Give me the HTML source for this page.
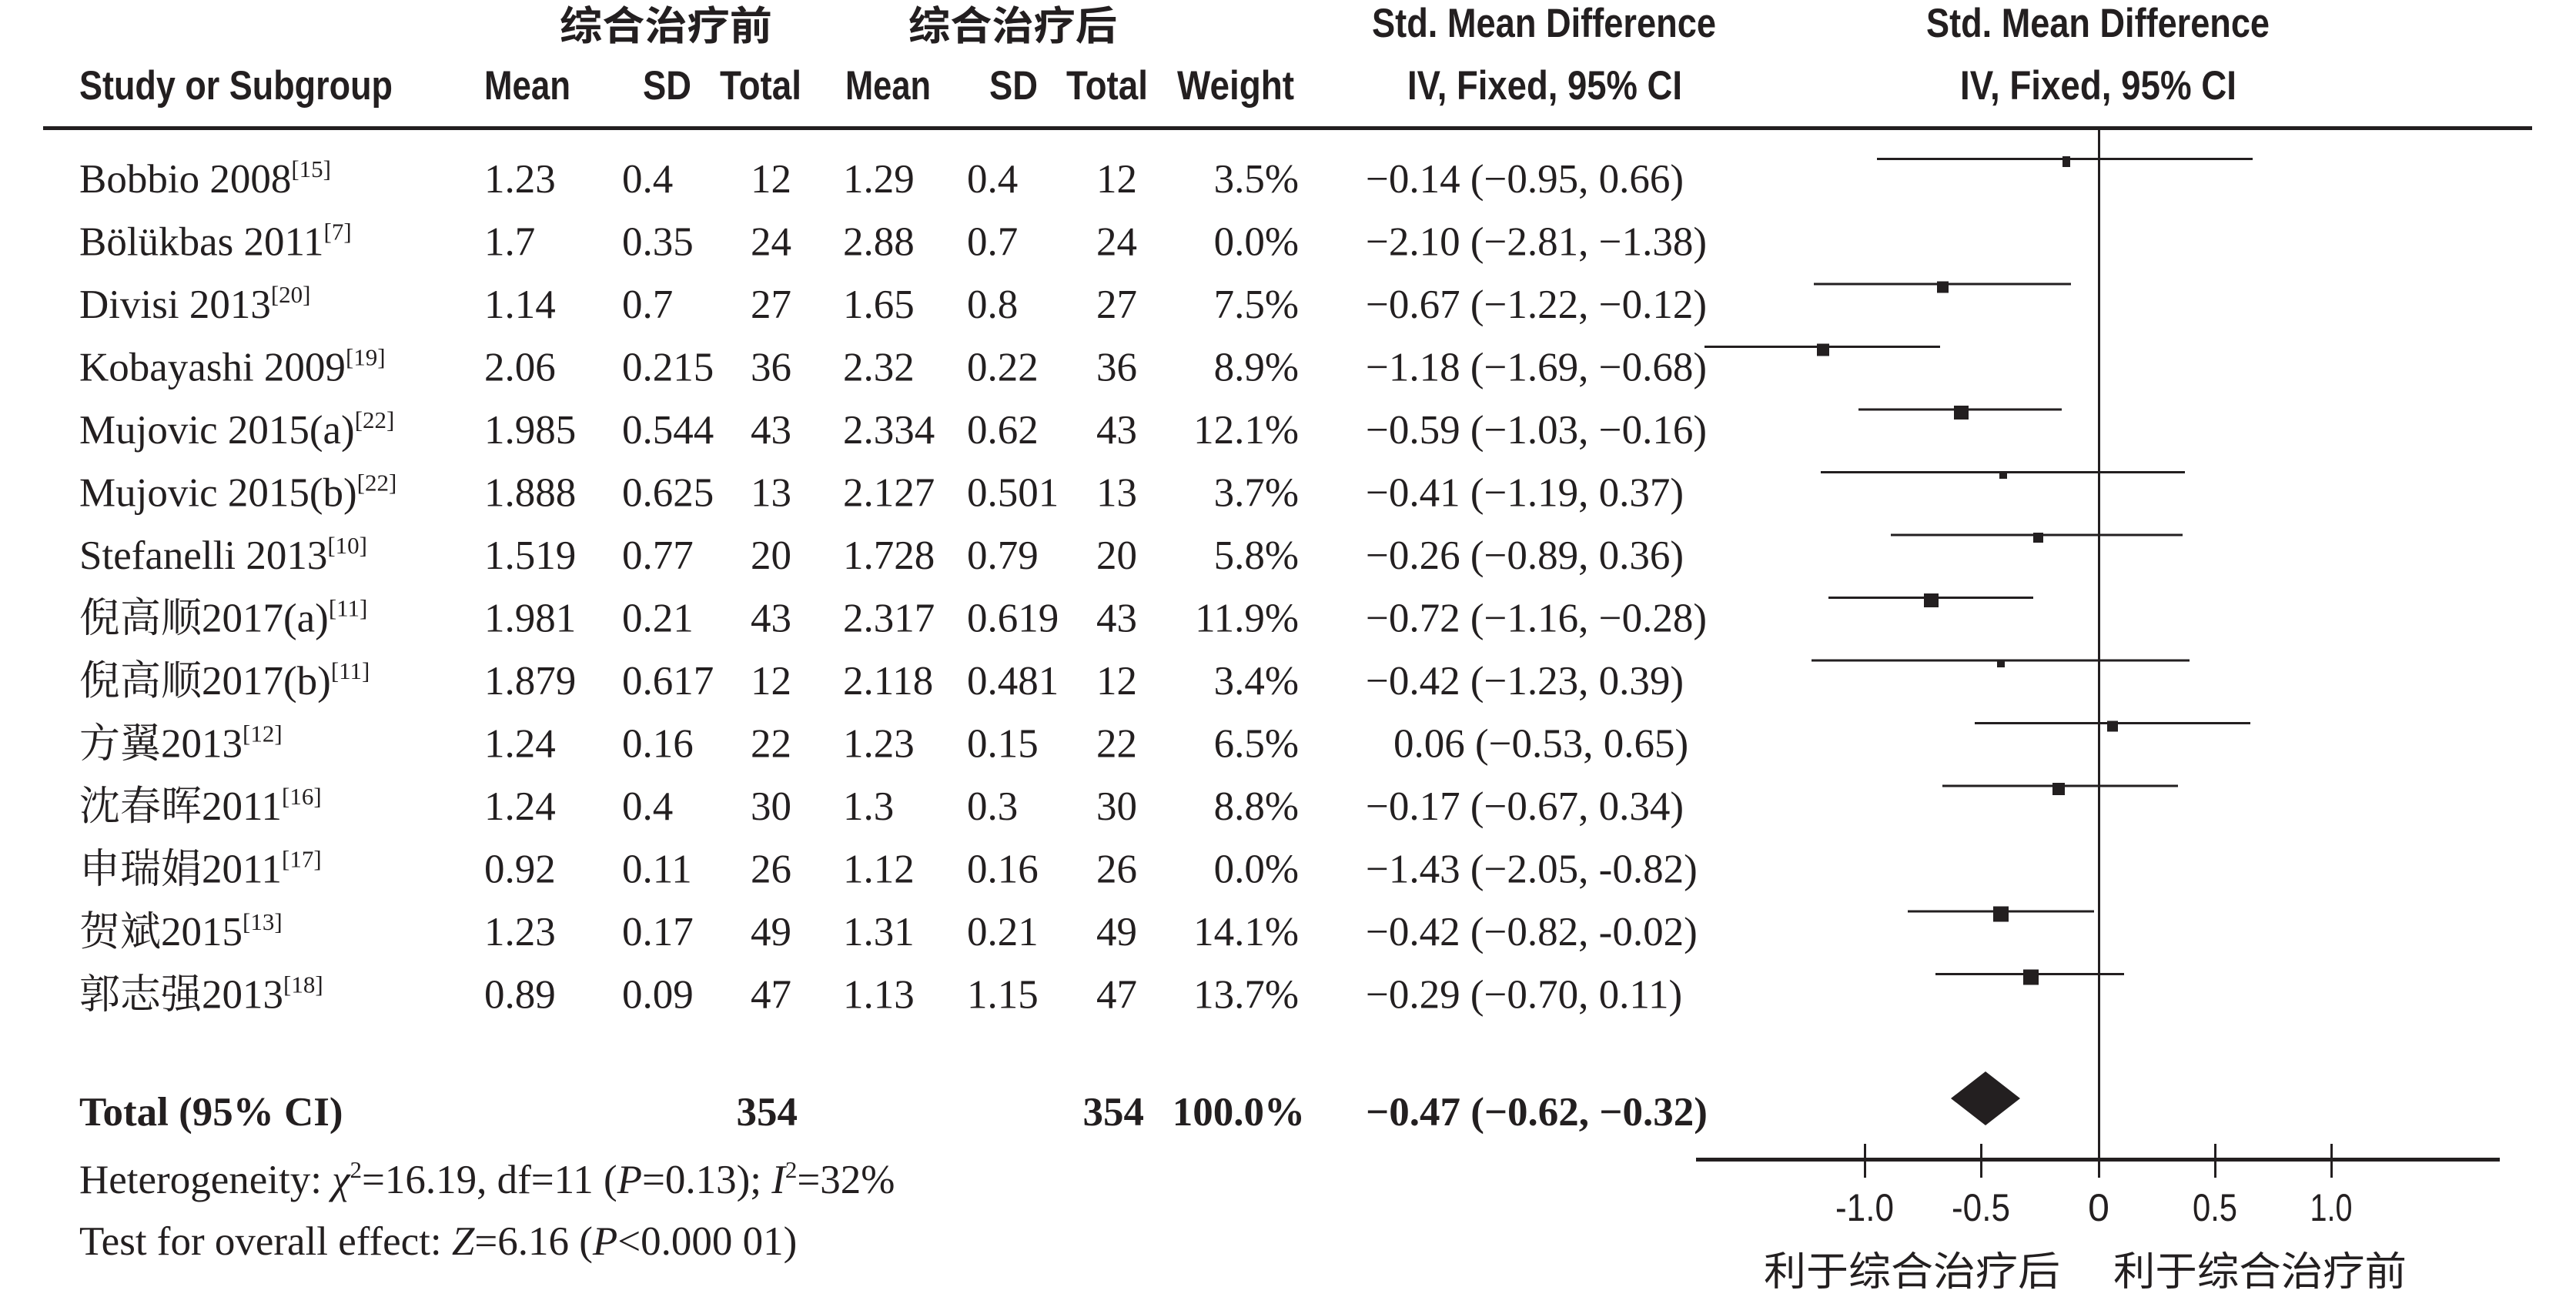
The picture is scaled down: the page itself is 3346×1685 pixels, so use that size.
<!DOCTYPE html>
<html><head><meta charset="utf-8"><style>
html,body{margin:0;padding:0;background:#fff;}
svg{display:block;}
.s{font-family:"Liberation Serif","Noto Serif CJK SC",serif;font-size:53px;fill:#231f20;}
.h{font-family:"Liberation Sans","Noto Sans CJK SC",sans-serif;font-size:53px;font-weight:bold;fill:#231f20;}
.c{font-family:"Liberation Sans","Noto Sans CJK SC",sans-serif;font-size:52px;fill:#231f20;}
.sup{font-size:31px;}
</style></head><body>
<svg width="3346" height="1685" xmlns="http://www.w3.org/2000/svg">
<!-- headers -->
<text class="c" x="727" y="52" textLength="276" lengthAdjust="spacingAndGlyphs" style="font-weight:bold">综合治疗前</text>
<text class="c" x="1180" y="52" textLength="271" lengthAdjust="spacingAndGlyphs" style="font-weight:bold">综合治疗后</text>
<text class="h" x="1782" y="48" textLength="447" lengthAdjust="spacingAndGlyphs">Std. Mean Difference</text>
<text class="h" x="2502" y="48" textLength="446" lengthAdjust="spacingAndGlyphs">Std. Mean Difference</text>
<text class="h" x="103" y="129" textLength="407" lengthAdjust="spacingAndGlyphs">Study or Subgroup</text>
<text class="h" x="629" y="129" textLength="112" lengthAdjust="spacingAndGlyphs">Mean</text>
<text class="h" x="835" y="129" textLength="63" lengthAdjust="spacingAndGlyphs">SD</text>
<text class="h" x="935" y="129" textLength="106" lengthAdjust="spacingAndGlyphs">Total</text>
<text class="h" x="1098" y="129" textLength="111" lengthAdjust="spacingAndGlyphs">Mean</text>
<text class="h" x="1285" y="129" textLength="63" lengthAdjust="spacingAndGlyphs">SD</text>
<text class="h" x="1385" y="129" textLength="106" lengthAdjust="spacingAndGlyphs">Total</text>
<text class="h" x="1529" y="129" textLength="152" lengthAdjust="spacingAndGlyphs">Weight</text>
<text class="h" x="1828" y="129" textLength="357" lengthAdjust="spacingAndGlyphs">IV, Fixed, 95% CI</text>
<text class="h" x="2546" y="129" textLength="359" lengthAdjust="spacingAndGlyphs">IV, Fixed, 95% CI</text>
<rect x="56" y="164" width="3233" height="5" fill="#231f20"/>
<!-- zero line and axis -->
<rect x="2725" y="166" width="3" height="1342" fill="#231f20"/>
<rect x="2203" y="1504" width="1044" height="5" fill="#231f20"/>
<g fill="#231f20">
<rect x="2421" y="1486" width="3" height="44"/><rect x="2572" y="1486" width="3" height="44"/><rect x="2725" y="1486" width="3" height="44"/><rect x="2876" y="1486" width="3" height="44"/><rect x="3027" y="1486" width="3" height="44"/>
</g>
<g class="c" text-anchor="middle" style="font-size:50px">
<text x="2422" y="1586" textLength="76" lengthAdjust="spacingAndGlyphs">-1.0</text>
<text x="2573" y="1586" textLength="76" lengthAdjust="spacingAndGlyphs">-0.5</text>
<text x="2726" y="1586">0</text>
<text x="2877" y="1586" textLength="58" lengthAdjust="spacingAndGlyphs">0.5</text>
<text x="3028" y="1586" textLength="55" lengthAdjust="spacingAndGlyphs">1.0</text>
</g>
<text class="c" x="2291" y="1670" textLength="385" lengthAdjust="spacingAndGlyphs">利于综合治疗后</text>
<text class="c" x="2745" y="1670" textLength="381" lengthAdjust="spacingAndGlyphs">利于综合治疗前</text>
<!-- diamond -->
<polygon points="2534,1427 2579,1392 2624,1427 2579,1462" fill="#231f20"/>
<!-- CI lines -->
<g fill="#231f20">
<rect x="2438" y="205" width="488" height="3"/><rect x="2679" y="203" width="10" height="14"/>
<rect x="2356" y="367.5" width="334" height="3"/><rect x="2516" y="365.5" width="15" height="15"/>
<rect x="2214" y="449" width="306" height="3"/><rect x="2360" y="446.5" width="16" height="16"/>
<rect x="2414" y="530.5" width="264" height="3"/><rect x="2538" y="527" width="19" height="18"/>
<rect x="2365" y="612" width="473" height="3"/><rect x="2597" y="612" width="10" height="10"/>
<rect x="2456" y="693.5" width="379" height="3"/><rect x="2641" y="692" width="13" height="13"/>
<rect x="2375" y="775" width="266" height="3"/><rect x="2499" y="771" width="19" height="18"/>
<rect x="2353" y="856.5" width="491" height="3"/><rect x="2594" y="857" width="10" height="10"/>
<rect x="2565" y="938" width="358" height="3"/><rect x="2737" y="936.5" width="14" height="14"/>
<rect x="2523" y="1019.5" width="306" height="3"/><rect x="2666" y="1017" width="16" height="16"/>
<rect x="2478" y="1182.5" width="242" height="3"/><rect x="2589" y="1177.5" width="20" height="20"/>
<rect x="2514" y="1264" width="245" height="3"/><rect x="2628" y="1259.5" width="20" height="20"/>
</g>
<!-- rows -->
<g class="s">
<text x="103" y="250">Bobbio 2008<tspan class="sup" dy="-20">[15]</tspan></text>
<text x="103" y="331.5">Bölükbas 2011<tspan class="sup" dy="-20">[7]</tspan></text>
<text x="103" y="413">Divisi 2013<tspan class="sup" dy="-20">[20]</tspan></text>
<text x="103" y="494.5">Kobayashi 2009<tspan class="sup" dy="-20">[19]</tspan></text>
<text x="103" y="576">Mujovic 2015(a)<tspan class="sup" dy="-20">[22]</tspan></text>
<text x="103" y="657.5">Mujovic 2015(b)<tspan class="sup" dy="-20">[22]</tspan></text>
<text x="103" y="739">Stefanelli 2013<tspan class="sup" dy="-20">[10]</tspan></text>
<text x="103" y="820.5">倪高顺2017(a)<tspan class="sup" dy="-20">[11]</tspan></text>
<text x="103" y="902">倪高顺2017(b)<tspan class="sup" dy="-20">[11]</tspan></text>
<text x="103" y="983.5">方翼2013<tspan class="sup" dy="-20">[12]</tspan></text>
<text x="103" y="1065">沈春晖2011<tspan class="sup" dy="-20">[16]</tspan></text>
<text x="103" y="1146.5">申瑞娟2011<tspan class="sup" dy="-20">[17]</tspan></text>
<text x="103" y="1228">贺斌2015<tspan class="sup" dy="-20">[13]</tspan></text>
<text x="103" y="1309.5">郭志强2013<tspan class="sup" dy="-20">[18]</tspan></text>
</g>
<g class="s">
<text x="629" y="250">1.23</text><text x="629" y="331.5">1.7</text><text x="629" y="413">1.14</text><text x="629" y="494.5">2.06</text><text x="629" y="576">1.985</text><text x="629" y="657.5">1.888</text><text x="629" y="739">1.519</text><text x="629" y="820.5">1.981</text><text x="629" y="902">1.879</text><text x="629" y="983.5">1.24</text><text x="629" y="1065">1.24</text><text x="629" y="1146.5">0.92</text><text x="629" y="1228">1.23</text><text x="629" y="1309.5">0.89</text>
<text x="808" y="250">0.4</text><text x="808" y="331.5">0.35</text><text x="808" y="413">0.7</text><text x="808" y="494.5">0.215</text><text x="808" y="576">0.544</text><text x="808" y="657.5">0.625</text><text x="808" y="739">0.77</text><text x="808" y="820.5">0.21</text><text x="808" y="902">0.617</text><text x="808" y="983.5">0.16</text><text x="808" y="1065">0.4</text><text x="808" y="1146.5">0.11</text><text x="808" y="1228">0.17</text><text x="808" y="1309.5">0.09</text>
<text x="1095" y="250">1.29</text><text x="1095" y="331.5">2.88</text><text x="1095" y="413">1.65</text><text x="1095" y="494.5">2.32</text><text x="1095" y="576">2.334</text><text x="1095" y="657.5">2.127</text><text x="1095" y="739">1.728</text><text x="1095" y="820.5">2.317</text><text x="1095" y="902">2.118</text><text x="1095" y="983.5">1.23</text><text x="1095" y="1065">1.3</text><text x="1095" y="1146.5">1.12</text><text x="1095" y="1228">1.31</text><text x="1095" y="1309.5">1.13</text>
<text x="1256" y="250">0.4</text><text x="1256" y="331.5">0.7</text><text x="1256" y="413">0.8</text><text x="1256" y="494.5">0.22</text><text x="1256" y="576">0.62</text><text x="1256" y="657.5">0.501</text><text x="1256" y="739">0.79</text><text x="1256" y="820.5">0.619</text><text x="1256" y="902">0.481</text><text x="1256" y="983.5">0.15</text><text x="1256" y="1065">0.3</text><text x="1256" y="1146.5">0.16</text><text x="1256" y="1228">0.21</text><text x="1256" y="1309.5">1.15</text>
</g>
<g class="s" text-anchor="end">
<text x="1028" y="250">12</text><text x="1028" y="331.5">24</text><text x="1028" y="413">27</text><text x="1028" y="494.5">36</text><text x="1028" y="576">43</text><text x="1028" y="657.5">13</text><text x="1028" y="739">20</text><text x="1028" y="820.5">43</text><text x="1028" y="902">12</text><text x="1028" y="983.5">22</text><text x="1028" y="1065">30</text><text x="1028" y="1146.5">26</text><text x="1028" y="1228">49</text><text x="1028" y="1309.5">47</text>
<text x="1477" y="250">12</text><text x="1477" y="331.5">24</text><text x="1477" y="413">27</text><text x="1477" y="494.5">36</text><text x="1477" y="576">43</text><text x="1477" y="657.5">13</text><text x="1477" y="739">20</text><text x="1477" y="820.5">43</text><text x="1477" y="902">12</text><text x="1477" y="983.5">22</text><text x="1477" y="1065">30</text><text x="1477" y="1146.5">26</text><text x="1477" y="1228">49</text><text x="1477" y="1309.5">47</text>
<text x="1687" y="250">3.5%</text><text x="1687" y="331.5">0.0%</text><text x="1687" y="413">7.5%</text><text x="1687" y="494.5">8.9%</text><text x="1687" y="576">12.1%</text><text x="1687" y="657.5">3.7%</text><text x="1687" y="739">5.8%</text><text x="1687" y="820.5">11.9%</text><text x="1687" y="902">3.4%</text><text x="1687" y="983.5">6.5%</text><text x="1687" y="1065">8.8%</text><text x="1687" y="1146.5">0.0%</text><text x="1687" y="1228">14.1%</text><text x="1687" y="1309.5">13.7%</text>
</g>
<g class="s">
<text x="1774" y="250">−0.14 (−0.95, 0.66)</text>
<text x="1774" y="331.5">−2.10 (−2.81, −1.38)</text>
<text x="1774" y="413">−0.67 (−1.22, −0.12)</text>
<text x="1774" y="494.5">−1.18 (−1.69, −0.68)</text>
<text x="1774" y="576">−0.59 (−1.03, −0.16)</text>
<text x="1774" y="657.5">−0.41 (−1.19, 0.37)</text>
<text x="1774" y="739">−0.26 (−0.89, 0.36)</text>
<text x="1774" y="820.5">−0.72 (−1.16, −0.28)</text>
<text x="1774" y="902">−0.42 (−1.23, 0.39)</text>
<text x="1810" y="983.5">0.06 (−0.53, 0.65)</text>
<text x="1774" y="1065">−0.17 (−0.67, 0.34)</text>
<text x="1774" y="1146.5">−1.43 (−2.05, -0.82)</text>
<text x="1774" y="1228">−0.42 (−0.82, -0.02)</text>
<text x="1774" y="1309.5">−0.29 (−0.70, 0.11)</text>
</g>
<!-- total -->
<g class="s" style="font-weight:bold">
<text x="103" y="1462">Total (95% CI)</text>
<text x="1036" y="1462" text-anchor="end">354</text>
<text x="1486" y="1462" text-anchor="end">354</text>
<text x="1695" y="1462" text-anchor="end">100.0%</text>
<text x="1774" y="1462">−0.47 (−0.62, −0.32)</text>
</g>
<text class="s" x="103" y="1550">Heterogeneity: <tspan font-style="italic">χ</tspan><tspan class="sup" dy="-20">2</tspan><tspan dy="20">=16.19, df=11 (</tspan><tspan font-style="italic">P</tspan>=0.13); <tspan font-style="italic">I</tspan><tspan class="sup" dy="-20">2</tspan><tspan dy="20">=32%</tspan></text>
<text class="s" x="103" y="1630">Test for overall effect: <tspan font-style="italic">Z</tspan>=6.16 (<tspan font-style="italic">P</tspan>&lt;0.000 01)</text>
</svg>
</body></html>
